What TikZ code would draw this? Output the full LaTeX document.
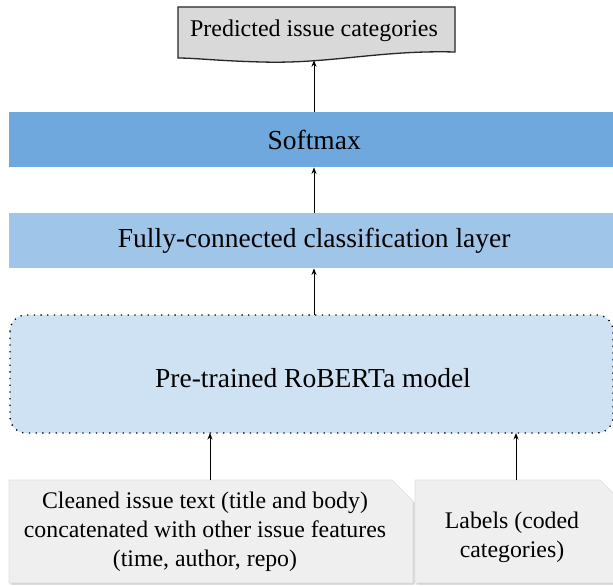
\documentclass[tikz,border=0pt]{standalone}
\usepackage{fontspec}
\setmainfont{Liberation Serif}
\usetikzlibrary{arrows.meta,shadows}
\definecolor{softc}{HTML}{6FA8DC}
\definecolor{fcc}{HTML}{9FC5E8}
\definecolor{robc}{HTML}{CFE2F3}
\definecolor{docc}{HTML}{D9D9D9}
\definecolor{inc}{HTML}{EFEFEF}
\begin{document}
\begin{tikzpicture}[x=1pt,y=-1pt,
  arr/.style={-{Stealth[length=6.5pt,width=5pt]}, line width=1pt, black},
  bigtxt/.style={font=\fontsize{27.5}{32}\selectfont, inner sep=0pt},
  smalltxt/.style={font=\fontsize{23.8}{29}\selectfont, inner sep=0pt, align=center},
  layer/.style={bigtxt, anchor=north west, minimum height=55pt},
  inbox/.style={fill=inc, draw=black!12, line width=0.6pt, drop shadow={shadow xshift=1.5pt, shadow yshift=-1.5pt, opacity=0.4}}]
\useasboundingbox (0,0) rectangle (613,586);
\fill[white] (0,0) rectangle (613,586);
% predicted document shape
\filldraw[fill=docc, draw=black!85, line width=1.3pt]
  (178,7) -- (455,7) -- (455,52)
  .. controls (380,50) and (330,64) .. (262,62)
  .. controls (220,61) and (195,58) .. (178,58) -- cycle;
\node[font=\fontsize{24}{28}\selectfont, inner sep=0pt, minimum width=277pt, minimum height=62pt] (pred) at (314,31) {Predicted issue categories};
% layers
\node[layer, fill=softc, minimum width=610pt] (soft) at (9,112) {Softmax};
\node[layer, fill=fcc, minimum width=610pt] (fc) at (9,213) {Fully-connected classification layer};
\draw[fill=robc, rounded corners=16pt, line width=1.3pt, dash pattern=on 1.3pt off 5.4pt]
  (10,315) rectangle (613,433);
\node[bigtxt, minimum width=603pt, minimum height=118pt] (rob) at (313,378) {Pre-trained RoBERTa model};
% input boxes
\path[inbox] (9,480) -- (392,480) -- (413,501) -- (413,583) -- (9,583) -- cycle;
\path[inbox] (415,480) -- (600,480) -- (621,501) -- (621,583) -- (415,583) -- cycle;
\node[smalltxt, minimum width=404pt, minimum height=103pt] (inp) at (205,532)
  {Cleaned issue text (title and body)\\concatenated with other issue features\\(time, author, repo)};
\node[smalltxt, minimum width=198pt, minimum height=103pt] (lab) at (512,537)
  {Labels (coded\\categories)};
% connectors
\draw[arr] (pred.south |- soft.north) -- ([yshift=2pt]pred.south);
\draw[arr] (pred.south |- fc.north) -- (pred.south |- soft.south);
\draw[arr] (pred.south |- 0,315) -- (pred.south |- fc.south);
\draw[arr] (210,480) -- (210,433);
\draw[arr] (516,480) -- (516,433);
\end{tikzpicture}
\end{document}
